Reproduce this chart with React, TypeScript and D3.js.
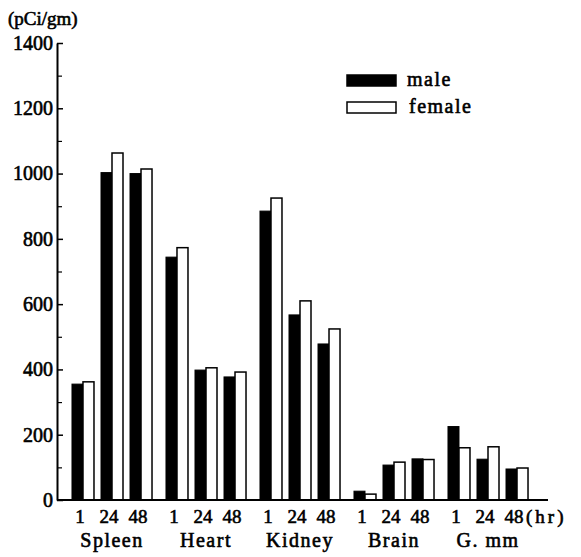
import React, { useRef, useEffect } from "react";
import * as d3 from "d3";

const organs = ["Spleen", "Heart", "Kidney", "Brain", "G. mm"];
const hours = ["1", "24", "48"];
// values per organ, in hours order (pCi/gm)
const male = [
  [355, 1003, 1000],
  [744, 398, 377],
  [885, 567, 478],
  [27, 107, 126],
  [225, 125, 95],
];
const female = [
  [362, 1063, 1014],
  [773, 405, 392],
  [925, 610, 524],
  [18, 116, 124],
  [160, 163, 98],
];
const yTicks = [0, 200, 400, 600, 800, 1000, 1200, 1400];
const yMinor = [100, 300, 500, 700, 900, 1100, 1300];
const series = ["male", "female"];

const FONT = "Liberation Serif";

// thicken the serif a bit, the scan is heavy
function ink(sel: any, size: number) {
  sel
    .style("font-family", FONT)
    .style("font-size", size + "px")
    .attr("fill", "#000")
    .attr("stroke", "#000")
    .attr("stroke-width", 0.6);
}

export default function App() {
  const ref = useRef<SVGSVGElement>(null);

  useEffect(() => {
    const svg = d3.select(ref.current);
    svg.selectAll("*").remove();

    const y = d3.scaleLinear().domain([0, 1400]).range([500, 43]);
    const x0 = d3.scaleBand().domain(organs).range([65, 535]);
    const x1 = d3
      .scalePoint()
      .domain(hours)
      .range([0, x0.bandwidth()])
      .padding(0.62);
    const bw = 11;

    // y axis
    svg
      .append("g")
      .attr("transform", "translate(57,0)")
      .call(
        d3
          .axisLeft(y)
          .tickValues(yTicks)
          .tickSizeInner(-6)
          .tickSizeOuter(0)
          .tickPadding(4)
          .tickFormat(d3.format("d"))
      )
      .call((g) => g.select(".domain").attr("stroke-width", 2))
      .call((g) => g.selectAll(".tick line").attr("stroke-width", 1.5))
      .call((g) => ink(g.selectAll(".tick text"), 20));
    svg
      .append("g")
      .attr("transform", "translate(57,0)")
      .call(d3.axisLeft(y).tickValues(yMinor).tickSizeInner(-5).tickSizeOuter(0).tickFormat(() => ""))
      .call((g) => g.select(".domain").remove())
      .call((g) => g.selectAll(".tick line").attr("stroke-width", 1.2));

    svg
      .append("text")
      .attr("x", 8)
      .attr("y", 25)
      .call(ink, 19)
      .text("(pCi/gm)");

    // bars
    const rows: { organ: string; hour: string; sex: string; v: number }[] = [];
    organs.forEach((o, i) =>
      hours.forEach((h, j) => {
        rows.push({ organ: o, hour: h, sex: "male", v: male[i][j] });
        rows.push({ organ: o, hour: h, sex: "female", v: female[i][j] });
      })
    );

    svg
      .append("g")
      .selectAll("rect")
      .data(rows)
      .enter()
      .append("rect")
      .attr("x", (d) => {
        const c = (x0(d.organ) as number) + (x1(d.hour) as number);
        return d.sex === "male" ? c - bw : c;
      })
      .attr("y", (d) => y(d.v))
      .attr("width", bw)
      .attr("height", (d) => y(0) - y(d.v))
      .attr("fill", (d) => (d.sex === "male" ? "#000" : "#fff"))
      .attr("stroke", "#000")
      .attr("stroke-width", (d) => (d.sex === "male" ? 1 : 1.5));

    // baseline
    svg
      .append("line")
      .attr("x1", 57)
      .attr("x2", 548)
      .attr("y1", y(0))
      .attr("y2", y(0))
      .attr("stroke", "#000")
      .attr("stroke-width", 2);

    // hour labels
    const hl = svg.append("g");
    organs.forEach((o) =>
      hours.forEach((h) => {
        hl.append("text")
          .attr("x", (x0(o) as number) + (x1(h) as number) - 3)
          .attr("y", 523)
          .attr("text-anchor", "middle")
          .call(ink, 19)
          .text(h);
      })
    );
    hl.append("text")
      .attr("x", (x0(organs[4]) as number) + (x1("48") as number) + 9)
      .attr("y", 523)
      .attr("letter-spacing", 3)
      .call(ink, 19)
      .text("(hr)");

    // organ labels
    svg
      .append("g")
      .selectAll("text")
      .data(organs)
      .enter()
      .append("text")
      .attr("x", (d) => (x0(d) as number) + x0.bandwidth() / 2)
      .attr("y", 547)
      .attr("text-anchor", "middle")
      .attr("letter-spacing", 1.5)
      .call(ink, 20)
      .text((d) => d);

    // legend
    const lg = svg
      .append("g")
      .selectAll("g")
      .data(series)
      .enter()
      .append("g")
      .attr("transform", (d, i) => `translate(347,${75 + i * 27})`);
    lg.append("rect")
      .attr("width", 49)
      .attr("height", 11)
      .attr("fill", (d) => (d === "male" ? "#000" : "#fff"))
      .attr("stroke", "#000")
      .attr("stroke-width", 1.5);
    lg.append("text")
      .attr("x", (d, i) => 60 + i * 2)
      .attr("y", 11)
      .attr("letter-spacing", 1.5)
      .call(ink, 20)
      .text((d) => d);
  }, []);

  return (
    <div style={{ position: "absolute", left: 0, top: 0 }}>
      <svg ref={ref} width={581} height={557} style={{ background: "#fff" }}></svg>
    </div>
  );
}
